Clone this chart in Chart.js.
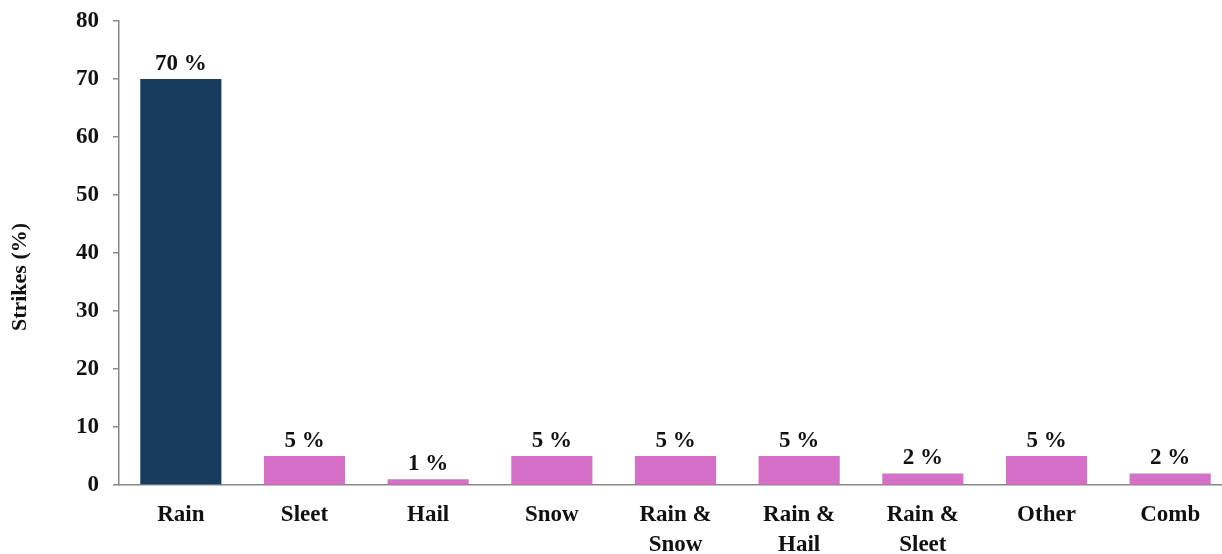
<!DOCTYPE html>
<html>
<head>
<meta charset="utf-8">
<script src="https://cdn.jsdelivr.net/npm/chart.js@4"></script>
<style>
  html, body { margin: 0; padding: 0; background: #fff; overflow: hidden; }
  #wrap { position: absolute; left: 0; top: 0; width: 1240px; height: 554px; }
</style>
</head>
<body>
<div id="wrap"><canvas id="c"></canvas></div>
<script>
// Precipitation type at the time of the strike
const categories = ['Rain', 'Sleet', 'Hail', 'Snow', ['Rain &', 'Snow'], ['Rain &', 'Hail'], ['Rain &', 'Sleet'], 'Other', 'Comb'];
const strikes = [70, 5, 1, 5, 5, 5, 2, 5, 2];
const yTicks = [0, 10, 20, 30, 40, 50, 60, 70, 80];
const yTitle = 'Strikes (%)';

const NAVY = '#1a3b60';
const ORCHID = '#d56fc8';
const AXIS = '#888888';
const FONT = '"Liberation Serif", "Times New Roman", serif';

// value label above each bar
const valueLabels = {
  id: 'valueLabels',
  afterDatasetsDraw(chart) {
    const ctx = chart.ctx;
    const meta = chart.getDatasetMeta(0);
    ctx.save();
    ctx.font = 'bold 23px ' + FONT;
    ctx.fillStyle = '#111';
    ctx.textAlign = 'center';
    ctx.textBaseline = 'alphabetic';
    meta.data.forEach((bar, i) => {
      ctx.fillText(strikes[i] + ' %', bar.x, bar.y - 9);
    });
    ctx.restore();
  }
};

// vertical axis title, centred on the canvas height
const sideTitle = {
  id: 'sideTitle',
  afterDraw(chart) {
    const ctx = chart.ctx;
    ctx.save();
    ctx.translate(20, chart.height / 2);
    ctx.rotate(-Math.PI / 2);
    ctx.font = 'bold 22px ' + FONT;
    ctx.fillStyle = '#111';
    ctx.textAlign = 'center';
    ctx.textBaseline = 'middle';
    ctx.fillText(yTitle, 0, 0);
    ctx.restore();
  }
};

new Chart(document.getElementById('c'), {
  type: 'bar',
  data: {
    labels: categories,
    datasets: [{
      data: strikes,
      backgroundColor: strikes.map((v, i) => i === 0 ? NAVY : ORCHID),
      borderWidth: 0,
      barPercentage: 0.656,
      categoryPercentage: 1
    }]
  },
  options: {
    responsive: true,
    maintainAspectRatio: false,
    animation: false,
    devicePixelRatio: 1,
    layout: { padding: { top: 21, right: 8, left: 0, bottom: 0 } },
    plugins: { legend: { display: false }, tooltip: { enabled: false } },
    scales: {
      x: {
        grid: { drawOnChartArea: false, drawTicks: false },
        border: { color: AXIS, width: 1.5 },
        ticks: {
          color: '#111',
          font: { family: FONT, size: 23, weight: 'bold', lineHeight: 1.3 },
          padding: 15,
          maxRotation: 0,
          autoSkip: false
        },
        afterFit(scale) {
          scale.height = 554 - 485;
          scale.paddingLeft = 0;
          scale.paddingRight = 0;
        }
      },
      y: {
        min: 0,
        max: 80,
        afterBuildTicks(scale) { scale.ticks = yTicks.map(v => ({ value: v })); },
        grid: { drawOnChartArea: false, drawTicks: true, tickLength: 6, color: AXIS, lineWidth: 1.5 },
        border: { color: AXIS, width: 1.5 },
        ticks: {
          color: '#111',
          font: { family: FONT, size: 23, weight: 'bold' },
          padding: 14
        },
        afterFit(scale) {
          scale.width = 119;
          scale.paddingTop = 0;
          scale.paddingBottom = 0;
        }
      }
    }
  },
  plugins: [valueLabels, sideTitle]
});
</script>
</body>
</html>
